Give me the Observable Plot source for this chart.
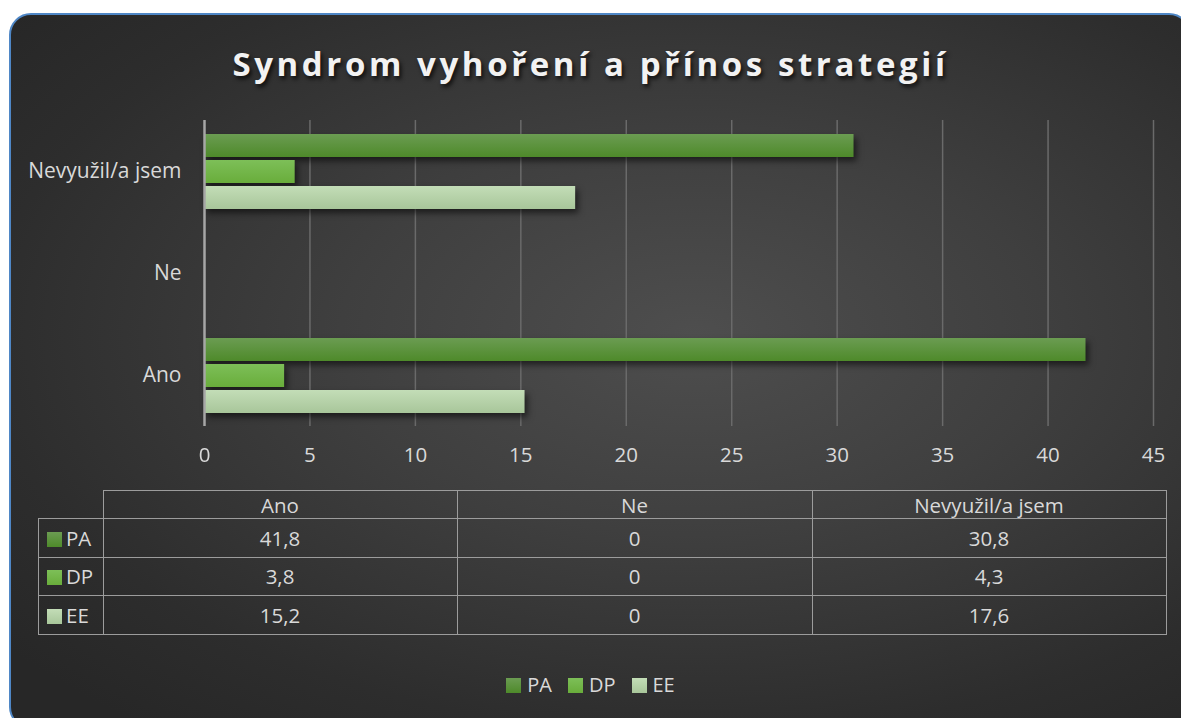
<!DOCTYPE html>
<html>
<head>
<meta charset="utf-8">
<script src="https://cdn.jsdelivr.net/npm/d3@7"></script>
<script src="https://cdn.jsdelivr.net/npm/@observablehq/plot@0.6"></script>
<style>
  html, body { margin: 0; padding: 0; background: #ffffff; width: 1181px; height: 718px; overflow: hidden; font-family: "Open Sans", Lato, sans-serif; }
  #card {
    position: absolute; left: 9px; top: 13px; width: 1182px; height: 716px;
    border: 2px solid #4f87c6; border-radius: 22px; box-sizing: border-box;
    background: radial-gradient(ellipse 75% 70% at 58% 45%, #4e4e4e 0%, #3f3f3f 40%, #2d2d2d 80%, #272727 100%);
    overflow: hidden;
  }
  #title {
    position: absolute; left: 0; top: 42px; width: 1181px; text-align: center;
    color: #f2f2f2; font-weight: 700; font-size: 33px; line-height: 44px; letter-spacing: 3.6px;
    text-shadow: 2px 3px 4px rgba(0,0,0,0.75);
  }
  #plot { position: absolute; left: 0; top: 100px; }
  #plot svg g[aria-label="bar"] { filter: drop-shadow(3px 4px 3px rgba(0,0,0,0.55)); }
  table.dt { position: absolute; left: 38px; top: 490px; border-collapse: collapse; color: #d9d9d9; font-size: 20.5px; }
  table.dt td { border: 1.5px solid #9c9c9c; text-align: center; padding: 0; line-height: 24px; }
  table.dt td.empty { border-top: none; border-left: none; }
  table.dt td.lab { text-align: left; padding-left: 8px; }
  .sw { display: inline-block; width: 15px; height: 15px; margin-right: 4px; vertical-align: -1px; }
  #legend { position: absolute; left: 0; top: 671px; width: 1181px; text-align: center; color: #d9d9d9; font-size: 20px; }
  #legend span.item { margin: 0 8px; }
  #legend .sw { margin-right: 6px; }
</style>
</head>
<body>
<div id="card"></div>
<div id="title">Syndrom vyhoření a přínos strategií</div>
<div id="plot"></div>
<table class="dt" id="dt"></table>
<div id="legend"></div>
<script>
const categories = ["Ano", "Ne", "Nevyužil/a jsem"];
const seriesNames = ["PA", "DP", "EE"];
const valuesPA = [41.8, 0, 30.8];
const valuesDP = [3.8, 0, 4.3];
const valuesEE = [15.2, 0, 17.6];
const valueLabels = {PA: ["41,8", "0", "30,8"], DP: ["3,8", "0", "4,3"], EE: ["15,2", "0", "17,6"]};
const xTicks = [0, 5, 10, 15, 20, 25, 30, 35, 40, 45];
const seriesColors = {PA: ["#6b9c52", "#4e8a2a"], DP: ["#7dbf58", "#69ad3b"], EE: ["#c3ddb7", "#a8c69a"]};

const seriesValues = {PA: valuesPA, DP: valuesDP, EE: valuesEE};
const data = [];
categories.forEach((c, i) => seriesNames.forEach(s => data.push({category: c, series: s, value: seriesValues[s][i]})));

const chart = Plot.plot({
  width: 1181,
  height: 371,
  marginLeft: 204,
  marginRight: 28,
  marginTop: 20,
  marginBottom: 45,
  style: {background: "transparent", color: "#d9d9d9", fontFamily: "'Open Sans', Lato, sans-serif", fontSize: "20.5px"},
  x: {domain: [0, 45], ticks: xTicks, label: null, grid: false},
  fy: {domain: categories.slice().reverse(), padding: 0, label: null},
  y: {domain: seriesNames, paddingInner: 0.12, paddingOuter: 0.48, axis: null},
  marks: [
    Plot.ruleX(xTicks.filter(d => d > 0), {stroke: "#6a6a6a", strokeWidth: 1.5, strokeOpacity: 1}),
    Plot.barX(data, {x: "value", y: "series", fy: "category", fill: d => `url(#grad-${d.series})`}),
    Plot.ruleX([0], {stroke: "#a6a6a6", strokeWidth: 2.5}),
    Plot.axisX({ticks: xTicks, tickSize: 0, tickPadding: 21, fill: "#d9d9d9", fontSize: 20.5, anchor: "bottom", facetAnchor: "bottom"}),
    Plot.axisFy({tickSize: 0, tickPadding: 23, fill: "#d9d9d9", fontSize: 21, anchor: "left", label: null})
  ]
});

// gradient defs for bars
const ns = "http://www.w3.org/2000/svg";
const defs = document.createElementNS(ns, "defs");
seriesNames.forEach(s => {
  const g = document.createElementNS(ns, "linearGradient");
  g.setAttribute("id", "grad-" + s);
  g.setAttribute("x1", "0"); g.setAttribute("y1", "0"); g.setAttribute("x2", "0"); g.setAttribute("y2", "1");
  [[0, seriesColors[s][0]], [1, seriesColors[s][1]]].forEach(([o, c]) => {
    const st = document.createElementNS(ns, "stop");
    st.setAttribute("offset", o); st.setAttribute("stop-color", c);
    g.appendChild(st);
  });
  defs.appendChild(g);
});
chart.insertBefore(defs, chart.firstChild);
document.getElementById("plot").appendChild(chart);

// data table
const swatch = s => `<span class="sw" style="background:linear-gradient(${seriesColors[s][0]}, ${seriesColors[s][1]})"></span>`;
const colW = [64, 353, 354, 353];
let html = `<tr style="height:28px"><td class="empty" style="width:${colW[0]}px"></td>` +
  categories.map((c, i) => `<td style="width:${colW[i+1]}px">${c}</td>`).join("") + `</tr>`;
seriesNames.forEach(s => {
  html += `<tr style="height:38.5px"><td class="lab">${swatch(s)}${s}</td>` +
    valueLabels[s].map(v => `<td>${v}</td>`).join("") + `</tr>`;
});
document.getElementById("dt").innerHTML = html;

// legend
document.getElementById("legend").innerHTML = seriesNames.map(s => `<span class="item">${swatch(s)}${s}</span>`).join("");
</script>
</body>
</html>
